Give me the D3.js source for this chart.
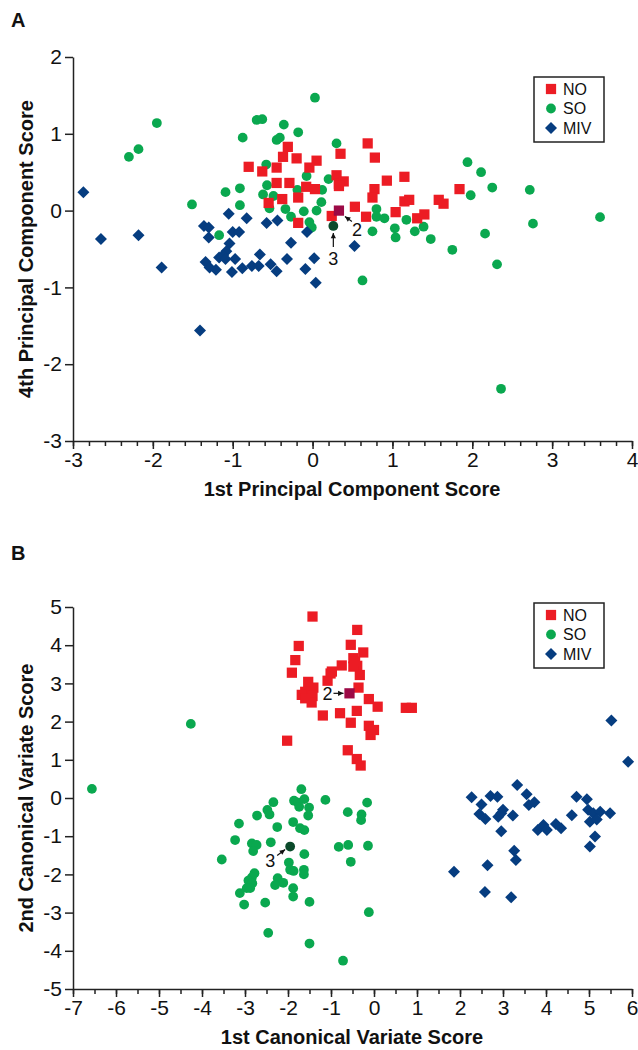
<!DOCTYPE html>
<meta charset="utf-8">
<title>PCA and CVA scores</title>
<style>
    body { margin: 0; background: #fff; }
    svg text { font-family: "Liberation Sans", Arial, sans-serif; fill: #111; }
    .axis path, .axis line { stroke: #222; stroke-width: 1.5; }
    .axis text { font-size: 21px; }
    .title { font-size: 20px; font-weight: bold; }
    .legend text { font-size: 16px; }
</style>
<svg width="638" height="1050"></svg>
<script src="https://d3js.org/d3.v7.min.js"></script>
<script>

// groups
var groups = ["NO", "SO", "MIV"];
var colors = {NO: "#ec1c24", SO: "#0aa84f", MIV: "#063d80"};

// panel A: 1st vs 4th principal component score
var pcaNO = [[-0.31,0.83],[-0.37,0.70],[-0.20,0.68],[0.05,0.65],[0.35,0.74],[-0.80,0.57],[-0.63,0.51],
    [-0.45,0.56],[-0.04,0.56],[0.30,0.46],[0.33,0.35],[0.39,0.38],[-0.45,0.36],[-0.29,0.36],[-0.08,0.31],
    [0.03,0.28],[-0.38,0.15],[-0.18,0.17],[-0.55,0.10],[0.53,0.05],[0.24,-0.07],[-0.18,-0.16],[0.69,0.875],
    [0.78,0.69],[0.33,0.32],[0.93,0.39],[1.15,0.44],[0.775,0.28],[0.75,0.17],[1.84,0.28],[1.58,0.14],
    [1.64,0.09],[0.67,-0.08],[1.15,0.12],[1.21,0.14],[1.04,-0.02],[1.31,-0.10],[1.40,-0.05]];
var pcaSO = [[0.03,1.47],[-1.95,1.14],[-2.18,0.80],[-2.30,0.70],[-0.70,1.18],[-0.63,1.19],[-0.36,1.12],
    [-0.18,1.02],[-0.875,0.95],[-0.45,0.92],[-0.41,0.95],[0.30,0.875],[-0.58,0.60],[-0.075,0.45],[0.20,0.41],
    [-0.57,0.33],[-0.91,0.29],[-1.09,0.24],[-0.62,0.21],[-0.49,0.19],[-0.19,0.27],[0.12,0.27],[-1.51,0.08],
    [-0.91,0.07],[-0.54,0.03],[-0.34,0.02],[-0.11,-0.01],[0.05,0.0],[0.11,0.11],[-0.27,-0.08],[-0.04,-0.15],
    [-0.01,-0.22],[-1.17,-0.32],[1.94,0.63],[2.11,0.50],[2.25,0.30],[2.72,0.27],[1.98,0.20],[3.60,-0.085],
    [2.76,-0.17],[0.80,0.02],[0.80,-0.08],[0.90,-0.10],[1.175,-0.12],[0.75,-0.27],[1.03,-0.23],[1.04,-0.35],
    [1.28,-0.27],[1.39,-0.21],[1.48,-0.37],[2.16,-0.30],[1.75,-0.51],[2.31,-0.70],[2.36,-2.32],[0.625,-0.91]];
var pcaMIV = [[-2.87,0.24],[-2.65,-0.37],[-2.18,-0.32],[-1.89,-0.74],[-1.41,-1.56],[-1.36,-0.20],[-1.30,-0.22],
    [-1.30,-0.35],[-1.05,-0.04],[-0.825,-0.10],[-0.575,-0.16],[-0.44,-0.13],[-0.07,-0.28],[-1.0,-0.28],
    [-0.92,-0.28],[-1.04,-0.43],[-0.27,-0.42],[-1.08,-0.53],[-1.12,-0.58],[-1.17,-0.61],[-1.09,-0.63],
    [-0.97,-0.63],[-0.66,-0.57],[-0.32,-0.63],[0.02,-0.62],[-1.34,-0.67],[-1.29,-0.74],[-1.21,-0.77],
    [-1.01,-0.80],[-0.88,-0.75],[-0.76,-0.72],[-0.675,-0.72],[-0.525,-0.70],[-0.45,-0.79],[-0.09,-0.76],
    [0.04,-0.94],[0.525,-0.46]];
var pcaMarked = {NO: [0.33, 0.0], SO: [0.26, -0.20]};

// panel B: 1st vs 2nd canonical variate score
var cvaNO = [[-1.43,4.75],[-0.39,4.40],[-0.54,4.01],[-0.25,3.81],[-1.75,3.98],[-1.83,3.61],[-1.91,3.28],
    [-0.48,3.66],[-0.39,3.46],[-0.33,3.22],[-0.48,3.44],[-0.44,3.57],[-0.75,3.47],[-1.01,3.26],[-1.08,3.07],
    [-0.98,3.31],[-0.36,2.89],[-1.53,3.04],[-1.41,2.89],[-1.60,2.78],[-1.43,2.67],[-1.45,2.50],[-1.68,2.70],
    [-1.60,2.61],[-0.12,2.59],[0.085,2.39],[0.74,2.36],[0.88,2.36],[-1.19,2.16],[-0.79,2.22],[-0.40,2.28],
    [-0.54,1.97],[-0.12,1.89],[0.0,1.78],[-0.08,1.65],[-0.61,1.25],[-0.40,1.02],[-0.31,0.85],[-2.02,1.50]];
var cvaSO = [[-6.56,0.24],[-4.26,1.94],[-1.69,0.23],[-2.34,-0.11],[-1.86,-0.07],[-1.77,-0.12],[-1.62,-0.03],
    [-1.74,-0.23],[-1.51,-0.25],[-1.53,-0.46],[-1.13,-0.05],[-2.48,-0.31],[-2.43,-0.43],[-2.72,-0.46],
    [-3.14,-0.67],[-1.88,-0.63],[-1.72,-0.79],[-1.62,-0.84],[-2.25,-0.76],[-3.23,-1.10],[-2.84,-1.19],
    [-2.73,-1.23],[-2.81,-1.39],[-2.40,-1.16],[-3.54,-1.61],[-1.62,-1.47],[-1.98,-1.69],[-1.87,-1.91],
    [-1.95,-1.88],[-1.63,-1.88],[-1.63,-2.0],[-2.78,-1.97],[-2.84,-2.08],[-2.92,-2.16],[-2.83,-2.23],
    [-2.88,-2.36],[-2.96,-2.36],[-3.12,-2.49],[-2.24,-2.10],[-2.11,-2.22],[-2.30,-2.28],[-1.88,-2.36],
    [-1.88,-2.58],[-3.02,-2.79],[-2.53,-2.74],[-1.50,-2.72],[-2.46,-3.53],[-1.50,-3.81],[-0.16,-0.12],
    [-0.61,-0.37],[-0.29,-0.43],[-0.30,-0.58],[-0.82,-1.28],[-0.60,-1.23],[-0.14,-1.25],[-0.54,-1.67],
    [-0.12,-2.99],[-0.72,-4.26]];
var cvaMIV = [[5.91,0.95],[5.52,2.03],[2.27,0.02],[2.71,0.05],[2.87,0.03],[3.33,0.34],[3.55,0.10],[3.60,-0.18],
    [3.73,-0.11],[2.50,-0.17],[2.45,-0.42],[2.59,-0.55],[3.0,-0.31],[2.89,-0.49],[2.96,-0.40],[3.23,-0.46],
    [2.96,-0.87],[4.71,0.03],[4.95,-0.03],[4.60,-0.45],[4.98,-0.31],[5.10,-0.40],[5.26,-0.36],[5.49,-0.40],
    [5.02,-0.62],[5.18,-0.56],[3.81,-0.84],[3.94,-0.71],[4.02,-0.84],[4.23,-0.68],[4.35,-0.79],[5.14,-1.01],
    [5.02,-1.27],[3.26,-1.38],[3.30,-1.62],[2.64,-1.76],[1.86,-1.93],[2.58,-2.46],[3.19,-2.60]];
var cvaMarked = {NO: [-0.57, 2.74], SO: [-1.95, -1.27]};

var svg = d3.select("svg");

// square turned 45 degrees, like the original markers
var rhombus = {
    draw: function(context, size) {
        var r = Math.sqrt(size / 2);
        context.moveTo(0, -r);
        context.lineTo(r, 0);
        context.lineTo(0, r);
        context.lineTo(-r, 0);
        context.closePath();
    }
};

var symbols = {
    NO: d3.symbol().type(d3.symbolSquare).size(105),
    SO: d3.symbol().type(d3.symbolCircle).size(75),
    MIV: d3.symbol().type(rhombus).size(72)
};

function plain(d) { return String(d); }

function panel(opt) {
    var x = d3.scaleLinear().domain(opt.xDomain).range([73, 632]);
    var y = d3.scaleLinear().domain(opt.yDomain).range(opt.yRange);
    var g = svg.append("g");
    var bottom = opt.yRange[0];

    // minor x ticks
    g.append("g").attr("class", "axis")
        .attr("transform", "translate(0," + bottom + ")")
        .call(d3.axisBottom(x).tickValues(opt.xMinor).tickSize(5).tickFormat(""))
        .select(".domain").remove();
    g.append("g").attr("class", "axis")
        .attr("transform", "translate(0," + bottom + ")")
        .call(d3.axisBottom(x).tickValues(d3.range(opt.xDomain[0], opt.xDomain[1] + 1))
            .tickSize(8).tickSizeOuter(0).tickPadding(3).tickFormat(plain));
    g.append("g").attr("class", "axis")
        .attr("transform", "translate(73,0)")
        .call(d3.axisLeft(y).tickValues(d3.range(opt.yDomain[0], opt.yDomain[1] + 1))
            .tickSize(8).tickSizeOuter(0).tickPadding(3).tickFormat(plain));

    g.append("text").attr("class", "title")
        .attr("x", 352).attr("y", bottom + 55)
        .attr("text-anchor", "middle").text(opt.xTitle);
    g.append("text").attr("class", "title")
        .attr("transform", "translate(33," + (opt.yRange[0] + opt.yRange[1]) / 2 + ") rotate(-90)")
        .attr("text-anchor", "middle").text(opt.yTitle);
    g.append("text").attr("class", "title")
        .attr("x", 11).attr("y", opt.labelY).text(opt.label);

    // points: SO, MIV, then NO on top
    [["SO", opt.so], ["MIV", opt.miv], ["NO", opt.no]].forEach(function(s) {
        g.selectAll(null).data(s[1]).enter().append("path")
            .attr("d", symbols[s[0]])
            .attr("fill", colors[s[0]])
            .attr("transform", function(d) { return "translate(" + x(d[0]) + "," + y(d[1]) + ")"; });
    });
    g.append("path").attr("d", symbols.NO).attr("fill", "#9c0a46")
        .attr("transform", "translate(" + x(opt.marked.NO[0]) + "," + y(opt.marked.NO[1]) + ")");
    g.append("path").attr("d", symbols.SO).attr("fill", "#0b4a2b")
        .attr("transform", "translate(" + x(opt.marked.SO[0]) + "," + y(opt.marked.SO[1]) + ")");

    // legend
    var lg = g.append("g").attr("class", "legend")
        .attr("transform", "translate(534," + opt.legendY + ")");
    lg.append("rect").attr("width", 70).attr("height", 65)
        .attr("fill", "#fff").attr("stroke", "#222").attr("stroke-width", 1.5);
    groups.forEach(function(k, i) {
        lg.append("path").attr("d", symbols[k]).attr("fill", colors[k])
            .attr("transform", "translate(17," + (12 + i * 19.5) + ")");
        lg.append("text").attr("x", 29).attr("y", 12 + i * 19.5).attr("dy", "0.36em").text(k);
    });

    return {g: g, x: x, y: y};
}

function arrow(g, x1, y1, x2, y2) {
    g.append("line").attr("x1", x1).attr("y1", y1).attr("x2", x2).attr("y2", y2)
        .attr("stroke", "#111").attr("stroke-width", 1.2);
    var a = Math.atan2(y2 - y1, x2 - x1), l = 6, w = 0.45;
    g.append("path")
        .attr("d", "M" + x2 + "," + y2 +
            "L" + (x2 - l * Math.cos(a - w)) + "," + (y2 - l * Math.sin(a - w)) +
            "L" + (x2 - l * Math.cos(a + w)) + "," + (y2 - l * Math.sin(a + w)) + "Z")
        .attr("fill", "#111");
}

var A = panel({
    xDomain: [-3, 4], yDomain: [-3, 2], yRange: [441, 57],
    xMinor: d3.range(-30, 41, 2).map(function(d) { return d / 10; }),
    xTitle: "1st Principal Component Score", yTitle: "4th Principal Component Score",
    label: "A", labelY: 27, legendY: 77,
    no: pcaNO, so: pcaSO, miv: pcaMIV, marked: pcaMarked
});
var B = panel({
    xDomain: [-7, 6], yDomain: [-5, 5], yRange: [989, 607],
    xMinor: d3.range(-14, 13, 1).map(function(d) { return d / 2; }),
    xTitle: "1st Canonical Variate Score", yTitle: "2nd Canonical Variate Score",
    label: "B", labelY: 560, legendY: 603,
    no: cvaNO, so: cvaSO, miv: cvaMIV, marked: cvaMarked
});

// annotations
var px, py;
px = A.x(pcaMarked.NO[0]); py = A.y(pcaMarked.NO[1]);
arrow(A.g, px + 13, py + 11, px + 6, py + 6);
A.g.append("text").attr("x", px + 18).attr("y", py + 25).attr("text-anchor", "middle").style("font-size", "18px").text("2");
px = A.x(pcaMarked.SO[0]); py = A.y(pcaMarked.SO[1]);
arrow(A.g, px, py + 21, px, py + 7);
A.g.append("text").attr("x", px).attr("y", py + 39).attr("text-anchor", "middle").style("font-size", "18px").text("3");

px = B.x(cvaMarked.NO[0]); py = B.y(cvaMarked.NO[1]);
arrow(B.g, px - 16, py, px - 6, py);
B.g.append("text").attr("x", px - 22).attr("y", py).attr("dy", "0.36em").attr("text-anchor", "middle").style("font-size", "18px").text("2");
px = B.x(cvaMarked.SO[0]); py = B.y(cvaMarked.SO[1]);
arrow(B.g, px - 13, py + 9, px - 5, py + 3);
B.g.append("text").attr("x", px - 20).attr("y", py + 20).attr("text-anchor", "middle").style("font-size", "18px").text("3");

</script>
